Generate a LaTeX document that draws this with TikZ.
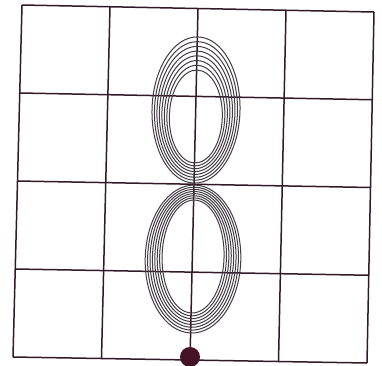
\documentclass[tikz,border=0pt]{standalone}
\usepackage{tikz}
\usetikzlibrary{calc}
\definecolor{gridline}{RGB}{50,25,40}
\definecolor{ringline}{RGB}{65,60,65}
\definecolor{dotfill}{RGB}{70,18,38}

\begin{document}
\begin{tikzpicture}[x=1pt,y=-1pt]
  \useasboundingbox (0,0) rectangle (382,365);
  \coordinate (tl) at (22,5); \coordinate (tr) at (374,12);
  \coordinate (bl) at (13,357); \coordinate (br) at (367,363);
  \foreach \i in {0,...,4} {
    \draw[gridline, line width=1.5pt] ($(bl)!\i/4!(br)$) -- ($(tl)!\i/4!(tr)$);
    \draw[gridline, line width=1.5pt] ($(tl)!\i/4!(bl)$) -- ($(tr)!\i/4!(br)$);
  }
  \foreach \k in {0,...,7} {
    \draw[ringline, line width=1pt, rotate around={-1.5:(196,110)}] (196,116.5-0.93*\k) ellipse ({26.5+2.5*\k} and {46.5+3.8*\k});
    \draw[ringline, line width=1pt, rotate around={-1.5:(193,259)}] (193,256.5+0.36*\k) ellipse ({31+2.4*\k} and {56.5+2.5*\k});
  }
  \fill[dotfill] (190,357) circle (10);
\end{tikzpicture}
\end{document}
